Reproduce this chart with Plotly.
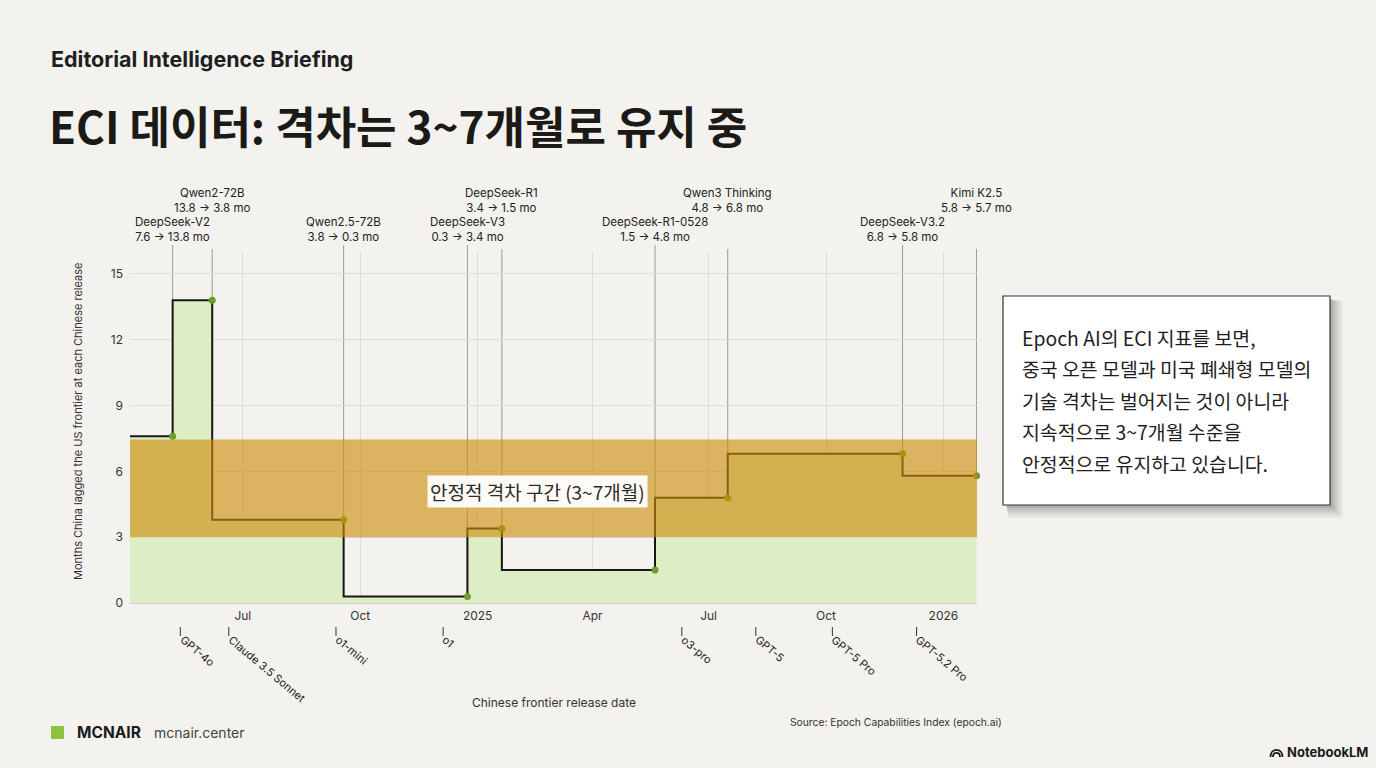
import pandas as pd
import plotly.graph_objects as go

# Chinese open-model releases and the US-frontier lag (months) before -> after each
cn_models = ["DeepSeek-V2", "Qwen2-72B", "Qwen2.5-72B", "DeepSeek-V3", "DeepSeek-R1",
             "DeepSeek-R1-0528", "Qwen3 Thinking", "DeepSeek-V3.2", "Kimi K2.5"]
cn_dates = ["2024-05-07", "2024-06-07", "2024-09-18", "2024-12-24", "2025-01-20",
            "2025-05-20", "2025-07-16", "2025-11-30", "2026-01-27"]
lag_before = [7.6, 13.8, 3.8, 0.3, 3.4, 1.5, 4.8, 6.8, 5.8]
lag_after = [13.8, 3.8, 0.3, 3.4, 1.5, 4.8, 6.8, 5.8, 5.7]

# US frontier releases marked under the axis
us_models = ["GPT-4o", "Claude 3.5 Sonnet", "o1-mini", "o1", "o3-pro", "GPT-5",
             "GPT-5 Pro", "GPT-5.2 Pro"]
us_dates = ["2024-05-13", "2024-06-20", "2024-09-12", "2024-12-05", "2025-06-10",
            "2025-08-07", "2025-10-06", "2025-12-11"]

band_range = [3, 7.45]
band_label = "안정적 격차 구간 (3~7개월)"

x_range = ["2024-04-03 14:00", "2026-01-27 08:00"]
y_range = [0, 16]
tick_dates = ["2024-07-01", "2024-10-01", "2025-01-01", "2025-04-01",
              "2025-07-01", "2025-10-01", "2026-01-01"]
tick_text = ["Jul", "Oct", "2025", "Apr", "Jul", "Oct", "2026"]
y_ticks = [0, 3, 6, 9, 12, 15]

callout_lines = ["Epoch AI의 ECI 지표를 보면,",
                 "중국 오픈 모델과 미국 폐쇄형 모델의",
                 "기술 격차는 벌어지는 것이 아니라",
                 "지속적으로 3~7개월 수준을",
                 "안정적으로 유지하고 있습니다."]

FONT = "Inter, 'Noto Sans CJK KR', sans-serif"
KFONT = "'Noto Sans CJK KR', Inter, sans-serif"
BG = "#f3f2ee"
W, H = 1376, 768
L, R, T, B = 130, 977, 252, 603


def px(x):
    return (x - L) / (R - L)


def py(y):
    return (B - y) / (B - T)


fig = go.Figure()

# step line with light green fill underneath
fig.add_trace(go.Scatter(
    x=[x_range[0]] + cn_dates, y=[lag_before[0]] + lag_after,
    mode="lines", line=dict(shape="hv", color="#161616", width=2),
    fill="tozeroy", fillcolor="#ddedc5", hoverinfo="skip", showlegend=False))

fig.add_trace(go.Scatter(
    x=cn_dates, y=lag_before, mode="markers",
    marker=dict(size=7, color="#6f9a2c"), cliponaxis=False, showlegend=False))

shapes = []
annotations = []

# leader lines + labels for Chinese releases, staggered in two rows
cn_ts = pd.to_datetime(cn_dates)
last_low = None
for name, d, ts, b, a in zip(cn_models, cn_dates, cn_ts, lag_before, lag_after):
    upper = last_low is not None and (ts - last_low).days < 70
    if not upper:
        last_low = ts
    shapes.append(dict(type="line", xref="x", yref="paper", x0=d, x1=d,
                       y0=b / y_range[1], y1=py(249 if upper else 245),
                       line=dict(color="#9a9a96", width=1), layer="between"))
    annotations.append(dict(
        x=d, y=py(200 if upper else 230), xref="x", yref="paper",
        text=f"{name}<br>{b} → {a} mo", showarrow=False, align="center",
        xanchor="center", yanchor="middle",
        font=dict(family=FONT, size=11.5, color="#222")))

# stable gap band (drawn over the line, semi transparent)
shapes.append(dict(type="rect", xref="paper", yref="y", x0=0, x1=1,
                   y0=band_range[0], y1=band_range[1],
                   fillcolor="rgba(205,140,10,0.62)", line=dict(width=0),
                   layer="above"))
annotations.append(dict(
    x="2025-02-17", y=5.1, xref="x", yref="y", text=band_label, showarrow=False,
    bgcolor="rgba(255,255,255,0.95)", borderpad=2,
    font=dict(family=KFONT, size=19, color="#2a2a2a")))

# US frontier release markers under the axis
for name, d in zip(us_models, us_dates):
    shapes.append(dict(type="line", xref="x", yref="paper", x0=d, x1=d,
                       y0=py(627), y1=py(636), line=dict(color="#333", width=1)))
    annotations.append(dict(
        x=d, y=py(630), xref="x", yref="paper", text=name, showarrow=False,
        textangle=40, xanchor="left", yanchor="top", xshift=-6,
        font=dict(family=FONT, size=11, color="#222")))

# axis titles
annotations.append(dict(
    x=px(78), y=py(422), xref="paper", yref="paper",
    text="Months China lagged the US frontier at each Chinese release",
    textangle=-90, showarrow=False, xanchor="center", yanchor="middle",
    font=dict(family=FONT, size=11, color="#333")))
annotations.append(dict(
    x=px(554), y=py(702), xref="paper", yref="paper",
    text="Chinese frontier release date", showarrow=False,
    xanchor="center", yanchor="middle",
    font=dict(family=FONT, size=12, color="#333")))

# callout box with soft shadow
bx0, bx1, by0, by1 = 1003, 1330, 296, 505
for i, op in enumerate([0.05, 0.06, 0.07, 0.08, 0.09]):
    off = 9 - i * 1.5
    grow = 4 - i
    shapes.append(dict(type="rect", xref="paper", yref="paper",
                       x0=px(bx0 + off - grow), x1=px(bx1 + off + grow),
                       y0=py(by1 + off + grow), y1=py(by0 + off - grow),
                       fillcolor=f"rgba(30,30,30,{op})", line=dict(width=0),
                       layer="above"))
shapes.append(dict(type="rect", xref="paper", yref="paper",
                   x0=px(bx0), x1=px(bx1), y0=py(by1), y1=py(by0),
                   fillcolor="#ffffff", line=dict(color="#333", width=1.2),
                   layer="above"))
for i, line in enumerate(callout_lines):
    annotations.append(dict(
        x=px(1020), y=py(337 + i * 31.5), xref="paper", yref="paper",
        text=line, showarrow=False, xanchor="left", yanchor="middle",
        font=dict(family=KFONT, size=19.4, color="#1e1e1e")))

# page titles
annotations.append(dict(
    x=px(49), y=py(59), xref="paper", yref="paper",
    text="<b>Editorial Intelligence Briefing</b>", showarrow=False,
    xanchor="left", yanchor="middle",
    font=dict(family=FONT, size=21.5, color="#1f1f1f")))
annotations.append(dict(
    x=px(47), y=py(125), xref="paper", yref="paper",
    text="<b>ECI 데이터: 격차는 3~7개월로 유지 중</b>", showarrow=False,
    xanchor="left", yanchor="middle",
    font=dict(family=KFONT, size=44, color="#1c1a17")))

# footer
shapes.append(dict(type="rect", xref="paper", yref="paper",
                   x0=px(51), x1=px(64), y0=py(739), y1=py(726),
                   fillcolor="#8cc43c", line=dict(width=0)))
annotations.append(dict(
    x=px(75), y=py(732), xref="paper", yref="paper", text="<b>MCNAIR</b>",
    showarrow=False, xanchor="left", yanchor="middle",
    font=dict(family=FONT, size=15.5, color="#1a1a1a")))
annotations.append(dict(
    x=px(152), y=py(732), xref="paper", yref="paper", text="mcnair.center",
    showarrow=False, xanchor="left", yanchor="middle",
    font=dict(family=FONT, size=14, color="#444")))
annotations.append(dict(
    x=px(1004), y=py(722), xref="paper", yref="paper",
    text="Source: Epoch Capabilities Index (epoch.ai)", showarrow=False,
    xanchor="right", yanchor="middle",
    font=dict(family=FONT, size=10.3, color="#333")))
annotations.append(dict(
    x=px(1370), y=py(752), xref="paper", yref="paper", text="<b>NotebookLM</b>",
    showarrow=False, xanchor="right", yanchor="middle",
    font=dict(family=FONT, size=13, color="#1a1a1a")))
for r in (6, 3.5):
    cx, cy = 1276.5, 757
    shapes.append(dict(
        type="path", xref="paper", yref="paper",
        path=(f"M {px(cx - r)},{py(cy)} C {px(cx - r)},{py(cy - r * 1.6)} "
              f"{px(cx + r)},{py(cy - r * 1.6)} {px(cx + r)},{py(cy)}"),
        line=dict(color="#1a1a1a", width=1.8)))

fig.update_layout(
    width=W, height=H, autosize=False,
    margin=dict(l=L, r=W - R, t=T, b=H - B),
    paper_bgcolor=BG, plot_bgcolor=BG,
    font=dict(family=FONT, size=12, color="#333"),
    showlegend=False, shapes=shapes, annotations=annotations,
    xaxis=dict(type="date", range=x_range, tickvals=tick_dates, ticktext=tick_text,
               showgrid=True, gridcolor="#dedcd6", gridwidth=1, showline=False,
               zeroline=False, ticks="", ticklabelstandoff=4,
               tickfont=dict(family=FONT, size=12, color="#333")),
    yaxis=dict(range=y_range, tickvals=y_ticks, showgrid=True, gridcolor="#dedcd6",
               gridwidth=1, zeroline=True, zerolinecolor="#d2d1ca", zerolinewidth=1,
               showline=False, ticks="", ticklabelstandoff=6,
               tickfont=dict(family=FONT, size=12, color="#333")),
)

fig.write_html("out.html", config={"displayModeBar": False},
               post_script="document.body.style.margin='0';"
                           "document.body.style.background='" + BG + "';")
